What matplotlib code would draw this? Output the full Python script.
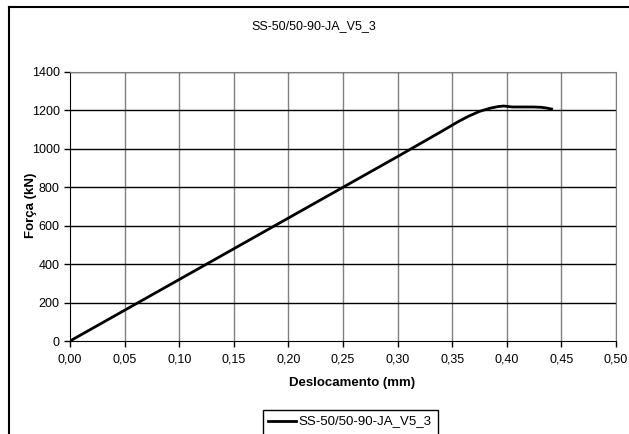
import matplotlib
matplotlib.use("Agg")
import matplotlib.pyplot as plt
from matplotlib.patches import Rectangle
from matplotlib.lines import Line2D

plt.rcParams['font.family'] = ['Liberation Sans', 'DejaVu Sans']

title = "SS-50/50-90-JA_V5_3"
series_name = "SS-50/50-90-JA_V5_3"
disp = [0.0, 0.05, 0.10, 0.15, 0.20, 0.25, 0.30, 0.34, 0.355, 0.365, 0.375, 0.385, 0.392, 0.397, 0.405, 0.415, 0.425, 0.432, 0.437, 0.441]
force = [0, 160, 320, 480, 640, 800, 960, 1090, 1140, 1170, 1195, 1212, 1220, 1223, 1218, 1218, 1218, 1216, 1212, 1207]
xticks = [0.0, 0.05, 0.10, 0.15, 0.20, 0.25, 0.30, 0.35, 0.40, 0.45, 0.50]
yticks = [0, 200, 400, 600, 800, 1000, 1200, 1400]

W, H = 629, 434
fig = plt.figure(figsize=(W / 100, H / 100), dpi=100)
ax = fig.add_axes([70 / W, 1 - 341 / H, 546 / W, 269 / H])

for xv in xticks[1:]:
    ax.axvline(xv, color='#808080', lw=1.0, zorder=1)
for yv in yticks[1:]:
    ax.axhline(yv, color='black', lw=1.0, zorder=1)

ax.plot(disp, force, color='black', lw=2.0, zorder=3)

ax.set_xlim(0, 0.5)
ax.set_ylim(0, 1400)
ax.set_xticks(xticks)
ax.set_xticklabels([f"{v:.2f}".replace('.', ',') for v in xticks])
ax.set_yticks(yticks)
ax.set_yticklabels([str(v) for v in yticks])
ax.tick_params(axis='both', labelsize=9, direction='out', length=4, width=1, color='black')
ax.tick_params(axis='x', pad=5)
for s in ['top', 'right']:
    ax.spines[s].set_color('#808080')
ax.spines['bottom'].set_color('black')
ax.spines['left'].set_color('black')

fig.text(352 / W, 1 - 383 / H, "Deslocamento (mm)", ha='center', va='center',
         fontsize=9.5, fontweight='bold')
fig.text(31 / W, 1 - 205 / H, "Força (kN)", ha='center', va='center',
         fontsize=9.5, fontweight='bold', rotation=90)
fig.text(314 / W, 1 - 26 / H, title, ha='center', va='center', fontsize=9)

# outer chart border
fig.add_artist(Line2D([9 / W, 9 / W], [0, 1 - 7 / H], transform=fig.transFigure, color='black', lw=1.5))
fig.add_artist(Line2D([9 / W, 1], [1 - 7 / H, 1 - 7 / H], transform=fig.transFigure, color='black', lw=1.5))

# legend box (extends below the figure edge, as in the reference)
lx0, ly0 = 263, 410
fig.add_artist(Rectangle((lx0 / W, -0.05), 175 / W, (1 - ly0 / H) + 0.05, transform=fig.transFigure,
                         facecolor='white', edgecolor='black', lw=1.0))
fig.add_artist(Line2D([268 / W, 296 / W], [1 - 421 / H, 1 - 421 / H], transform=fig.transFigure,
                      color='black', lw=2.0))
fig.text(298 / W, 1 - 421 / H, series_name, ha='left', va='center', fontsize=9.5)

fig.savefig("out.png", dpi=100)
